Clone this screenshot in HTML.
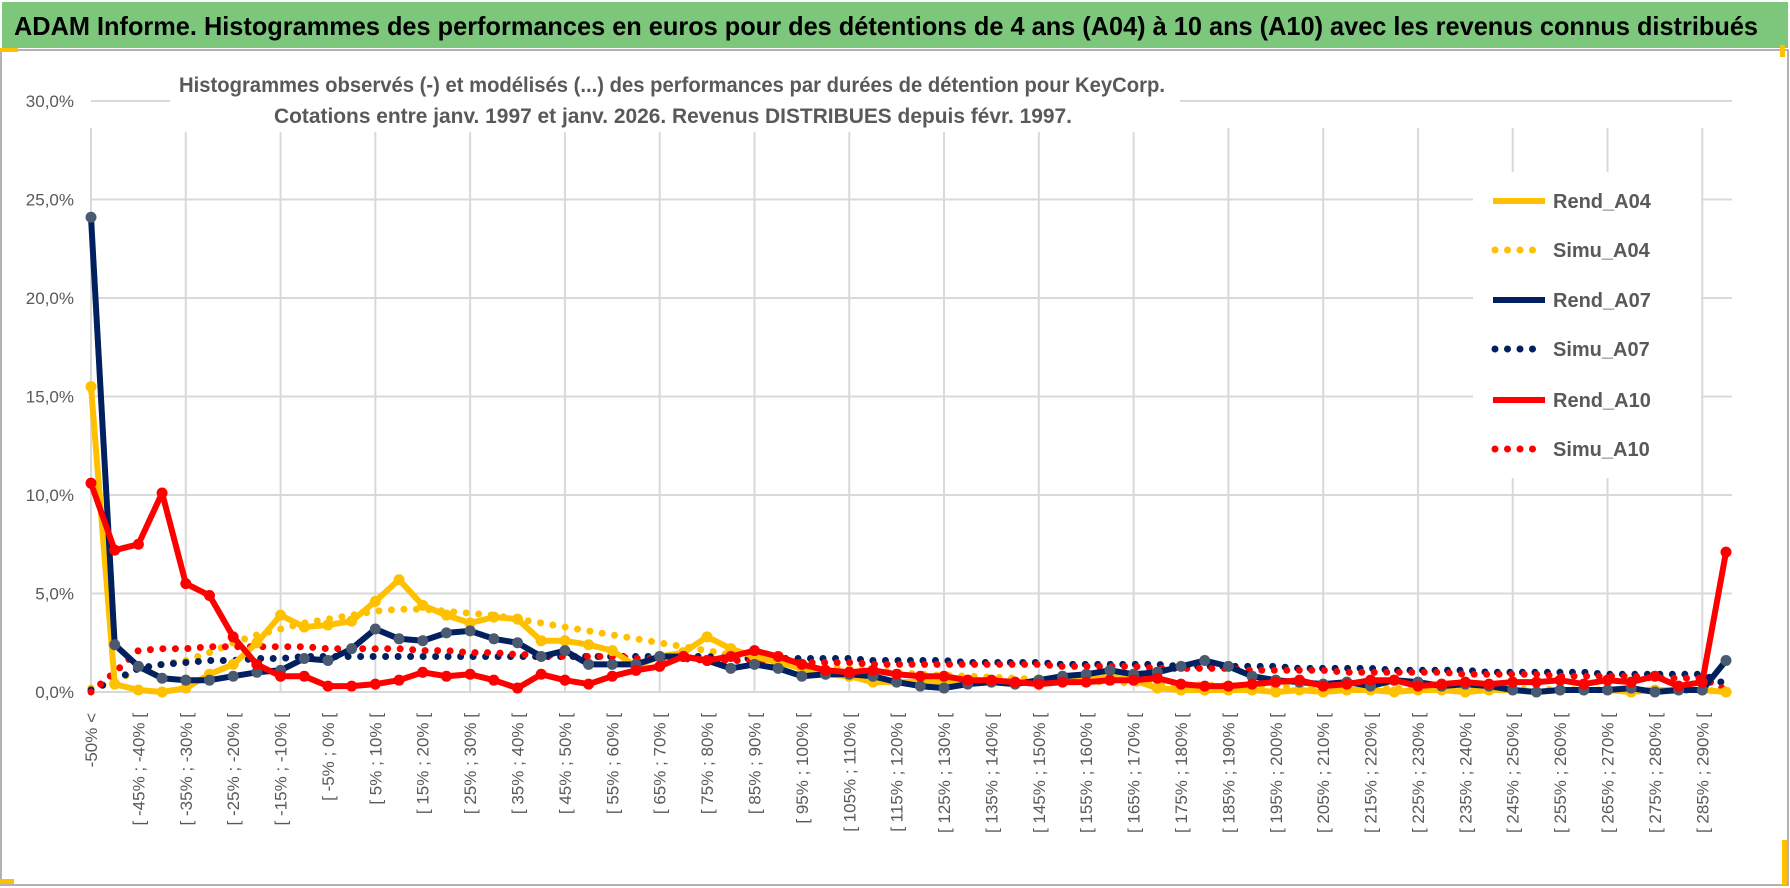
<!DOCTYPE html>
<html><head><meta charset="utf-8"><style>
html,body{margin:0;padding:0;background:#fff;}
svg{display:block;font-family:"Liberation Sans",sans-serif;}
</style></head><body>
<svg id="chart" width="1790" height="888" viewBox="0 0 1790 888">
<rect x="0" y="0" width="1790" height="888" fill="#fff"/>
<rect x="2" y="2" width="1786" height="46" fill="#7CC77C"/>
<text x="14" y="35" font-size="26" font-weight="bold" fill="#000" textLength="1744" lengthAdjust="spacingAndGlyphs">ADAM Informe. Histogrammes des performances en euros pour des détentions de 4 ans (A04) à 10 ans (A10) avec les revenus connus distribués</text>
<rect x="1" y="50" width="1787" height="835" fill="none" stroke="#999" stroke-width="1.5"/>
<rect x="0" y="48" width="18" height="4" fill="#FFC000"/>
<rect x="0" y="879" width="14" height="5" fill="#FFC000"/>
<rect x="1780" y="45" width="5" height="12" fill="#FFC000"/>
<rect x="1782" y="840" width="5" height="45" fill="#FFC000"/>
<g id="grid"></g>
<g id="ylabels"></g>
<g id="xlabels"></g>
<g id="series"></g>
<rect x="170" y="64" width="1010" height="68" fill="#fff"/>
<text x="672" y="92" text-anchor="middle" font-size="21" font-weight="bold" fill="#595959" textLength="986" lengthAdjust="spacingAndGlyphs">Histogrammes observés (-) et modélisés (...) des performances par durées de détention pour KeyCorp.</text>
<text x="673" y="123" text-anchor="middle" font-size="21" font-weight="bold" fill="#595959" textLength="798" lengthAdjust="spacingAndGlyphs">Cotations entre janv. 1997 et janv. 2026. Revenus DISTRIBUES depuis févr. 1997.</text>
<g id="legend"></g>
</svg>
<script>
const rendA04=[15.5,0.4,0.1,0.0,0.2,0.9,1.4,2.5,3.9,3.3,3.4,3.6,4.6,5.7,4.4,3.9,3.5,3.8,3.7,2.6,2.6,2.4,2.1,1.3,1.8,2.0,2.8,2.2,1.8,1.5,1.2,0.9,0.8,0.5,0.5,0.5,0.5,0.6,0.5,0.4,0.6,0.8,0.7,0.8,0.6,0.2,0.1,0.1,0.1,0.1,0.0,0.1,0.0,0.1,0.1,0.0,0.1,0.1,0.0,0.1,0.1,0.0,0.1,0.1,0.1,0.0,0.1,0.1,0.1,0.0];
const simuA04=[0.2,0.5,1.2,1.4,1.6,2.0,2.5,2.9,3.2,3.5,3.7,3.9,4.1,4.2,4.2,4.1,4.0,3.9,3.7,3.5,3.3,3.1,2.9,2.7,2.5,2.3,2.1,1.9,1.7,1.5,1.4,1.3,1.2,1.1,1.0,0.9,0.85,0.8,0.75,0.7,0.65,0.6,0.55,0.5,0.45,0.4,0.38,0.35,0.32,0.3,0.28,0.26,0.24,0.22,0.2,0.19,0.18,0.17,0.16,0.15,0.14,0.13,0.12,0.11,0.1,0.1,0.09,0.08,0.07,0.05];
const rendA07=[24.1,2.4,1.3,0.7,0.6,0.6,0.8,1.0,1.1,1.7,1.6,2.2,3.2,2.7,2.6,3.0,3.1,2.7,2.5,1.8,2.1,1.4,1.4,1.4,1.8,1.8,1.6,1.2,1.4,1.2,0.8,0.9,0.9,0.8,0.5,0.3,0.2,0.4,0.5,0.4,0.6,0.8,0.9,1.1,0.9,1.0,1.3,1.6,1.3,0.8,0.6,0.5,0.4,0.5,0.3,0.6,0.5,0.3,0.4,0.3,0.1,0.0,0.1,0.1,0.1,0.2,0.0,0.1,0.1,1.6];
const simuA07=[0.1,0.6,1.2,1.4,1.5,1.6,1.6,1.7,1.7,1.8,1.8,1.8,1.8,1.8,1.8,1.8,1.8,1.8,1.8,1.8,1.8,1.8,1.8,1.8,1.8,1.8,1.8,1.7,1.7,1.7,1.7,1.7,1.7,1.6,1.6,1.6,1.6,1.5,1.5,1.5,1.5,1.4,1.4,1.4,1.4,1.4,1.3,1.3,1.3,1.3,1.3,1.2,1.2,1.2,1.2,1.1,1.1,1.1,1.1,1.0,1.0,1.0,1.0,1.0,0.9,0.9,0.9,0.9,0.9,0.4];
const rendA10=[10.6,7.2,7.5,10.1,5.5,4.9,2.8,1.4,0.8,0.8,0.3,0.3,0.4,0.6,1.0,0.8,0.9,0.6,0.2,0.9,0.6,0.4,0.8,1.1,1.3,1.8,1.6,1.8,2.1,1.8,1.4,1.1,1.0,1.1,0.9,0.8,0.8,0.6,0.6,0.5,0.4,0.5,0.5,0.6,0.6,0.7,0.4,0.3,0.3,0.4,0.5,0.6,0.3,0.4,0.6,0.6,0.3,0.4,0.5,0.4,0.5,0.5,0.6,0.4,0.6,0.5,0.8,0.3,0.5,7.1];
const simuA10=[0.0,1.0,2.1,2.2,2.2,2.3,2.3,2.3,2.3,2.3,2.2,2.2,2.2,2.2,2.1,2.1,2.0,2.0,1.9,1.9,1.8,1.8,1.8,1.7,1.7,1.7,1.6,1.6,1.6,1.5,1.5,1.5,1.5,1.4,1.4,1.4,1.4,1.4,1.4,1.4,1.4,1.3,1.3,1.3,1.3,1.2,1.2,1.2,1.2,1.1,1.1,1.1,1.1,1.0,1.0,1.0,1.0,1.0,0.9,0.9,0.9,0.9,0.8,0.8,0.8,0.8,0.7,0.7,0.7,0.1];
const yTicks=[0,5,10,15,20,25,30];
const yTickLabels=["0,0%","5,0%","10,0%","15,0%","20,0%","25,0%","30,0%"];
const categories=["-50% <"];
for(let a=-50;a<295;a+=5){categories.push("[ "+a+"% ; "+(a+5)+"% [");}

const NS="http://www.w3.org/2000/svg";
const X0=91,X1=1726,Y0=692,Y30=101,RIGHT=1732;
const n=categories.length;
function xPos(i){return X0+(X1-X0)*i/(n-1);}
function yPos(v){return Y0-(Y0-Y30)*v/30;}
function mk(tag,attrs,parent){const e=document.createElementNS(NS,tag);for(const k in attrs)e.setAttribute(k,attrs[k]);parent.appendChild(e);return e;}

const grid=document.getElementById('grid');
yTicks.forEach((t,k)=>{
  const l=mk('line',{x1:X0,x2:RIGHT,y1:yPos(t),y2:yPos(t),stroke:'#d9d9d9','stroke-width':2},grid);
  
  
  const tx=mk('text',{x:74,y:yPos(t)+6,'text-anchor':'end','font-size':17,fill:'#595959'},document.getElementById('ylabels'));
  tx.textContent=yTickLabels[k];
  
  
});
for(let i=0;i<n;i+=4){
  const l=mk('line',{x1:xPos(i),x2:xPos(i),y1:Y30+27,y2:Y0,stroke:'#d9d9d9','stroke-width':2},grid);
  
  
}
const xl=document.getElementById('xlabels');
for(let i=0;i<n;i+=2){
  const x=xPos(i)+6,y=713;
  const t=mk('text',{x:x,y:y,'text-anchor':'end','font-size':17,fill:'#595959',transform:`rotate(-90 ${x} ${y})`},xl);
  t.textContent=categories[i];
  
  
}
const sg=document.getElementById('series');
function pts(arr){return arr.map((v,i)=>xPos(i).toFixed(1)+','+yPos(v).toFixed(1)).join(' ');}
function dotted(arr,color,name){
  const p=mk('polyline',{points:pts(arr),fill:'none',stroke:color,'stroke-width':7,'stroke-linecap':'round','stroke-dasharray':'0 12.5'},sg);
  
  
}
function solid(arr,color,mcolor,name){
  const p=mk('polyline',{points:pts(arr),fill:'none',stroke:color,'stroke-width':6,'stroke-linejoin':'round'},sg);
  
  
  arr.forEach((v,i)=>{
    const c=mk('circle',{cx:xPos(i),cy:yPos(v),r:5.5,fill:mcolor},sg);
    
    
  });
}
dotted(simuA04,'#FFC000','simu-a04-line');
dotted(simuA07,'#002060','simu-a07-line');
dotted(simuA10,'#FF0000','simu-a10-line');
solid(rendA04,'#FFC000','#FFC000','rend-a04-line');
solid(rendA07,'#002060','#4A5A70','rend-a07-line');
solid(rendA10,'#FF0000','#FF0000','rend-a10-line');

const lg=document.getElementById('legend');
mk('rect',{x:1473,y:172,width:228,height:306,fill:'#fff'},lg);
const legendNames=["Rend_A04","Simu_A04","Rend_A07","Simu_A07","Rend_A10","Simu_A10"];
const legendColors=["#FFC000","#FFC000","#002060","#002060","#FF0000","#FF0000"];
const legendY=[201,250,300,349,400,449];
legendNames.forEach((nm,k)=>{
  const g=mk('g',{},lg);
  
  
  const dot=nm.startsWith('Simu');
  mk('line',dot?{x1:1495,x2:1545,y1:legendY[k],y2:legendY[k],stroke:legendColors[k],'stroke-width':7,'stroke-linecap':'round','stroke-dasharray':'0 12.5'}:{x1:1493,x2:1545,y1:legendY[k],y2:legendY[k],stroke:legendColors[k],'stroke-width':6},g);
  const t=mk('text',{x:1553,y:legendY[k]+7,'font-size':20,'font-weight':'bold',fill:'#595959'},g);
  t.textContent=nm;
});
</script>
</body></html>
